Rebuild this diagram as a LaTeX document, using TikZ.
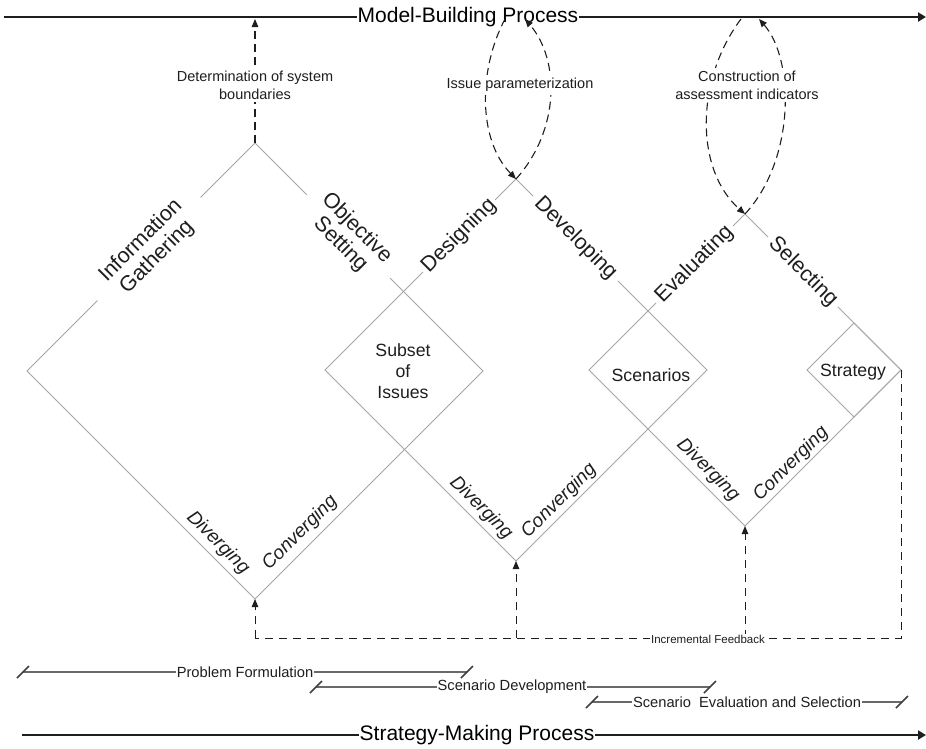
\documentclass[tikz,border=0pt]{standalone}
\usepackage{fontspec}
\setmainfont{Liberation Sans}
\usetikzlibrary{arrows.meta,calc,shapes.geometric}
\definecolor{dgray}{RGB}{165,165,165}
\definecolor{ink}{RGB}{30,30,30}
\definecolor{tlgray}{RGB}{105,105,105}
\begin{document}
\begin{tikzpicture}[x=1pt,y=-1pt,
 edge/.style={draw=dgray,line width=0.9pt},
 phase/.style={fill=white,inner ysep=1pt,font=\fontsize{21.5}{23}\selectfont,align=center,text=ink},
 swing/.style={font=\fontsize{19}{21}\selectfont\itshape,inner sep=0pt,text=ink},
 inside/.style={font=\fontsize{17.7}{21}\selectfont,align=center,inner sep=0pt,text=ink},
 note/.style={fill=white,font=\fontsize{14.5}{18}\selectfont,align=center,inner xsep=1pt,inner ysep=3pt,text=ink},
 mainline/.style={draw=ink,line width=2.2pt,-{Triangle[length=8pt,width=9pt]}},
 headline/.style={fill=white,font=\fontsize{21}{24}\selectfont,inner xsep=1pt,inner ysep=2pt,text=black},
 loopline/.style={draw=ink,dash pattern=on 8pt off 5pt,line width=1.1pt},
 tipped/.style={-{Triangle[length=8pt,width=6.5pt]}},
 fbline/.style={draw=ink,dash pattern=on 8pt off 6pt,line width=1pt},
 span/.style={draw=tlgray,line width=1.6pt},
 tick/.style={draw=ink!85,line width=1.5pt},
 spanlab/.style={fill=white,font=\fontsize{14.7}{17}\selectfont,inner xsep=1pt,inner ysep=1pt,text=ink}
]
\useasboundingbox (0,0) rectangle (926,748);

% ---- corner coordinates of the three big diamonds
\coordinate (T1) at (255,143); \coordinate (L1) at (27,371);
\coordinate (B1) at (255,599); \coordinate (R1) at (483,371);
\coordinate (T2) at (516,179); \coordinate (L2) at (325,370);
\coordinate (B2) at (516,561); \coordinate (R2) at (707,370);
\coordinate (T3) at (745,214); \coordinate (L3) at (589,370);
\coordinate (B3) at (745,526); \coordinate (R3) at (901,370);
\coordinate (S4t) at (854,323); \coordinate (S4l) at (807,370); \coordinate (S4b) at (854,417);

% ---- diamonds
\draw[edge] (T1) -- (R1) -- (B1) -- (L1) -- cycle;
\draw[edge] (T2) -- (R2) -- (B2) -- (L2) -- cycle;
\draw[edge] (T3) -- (R3) -- (B3) -- (L3) -- cycle;
\draw[edge] (S4t) -- (S4l) -- (S4b) -- (R3) -- cycle;

% ---- phase labels on upper edges
\node[phase,rotate=45,inner xsep=19pt] (ig) at (149,249) {Information\\Gathering};
\node[phase,rotate=-45,inner xsep=14pt] (os) at (348.5,236.5) {Objective\\Setting};
\node[phase,rotate=45,inner xsep=3pt] (des) at (459,236) {Designing};
\node[phase,rotate=-45,inner xsep=6pt] (dev) at (575.5,238.5) {Developing};
\node[phase,rotate=45,inner xsep=4pt] (eva) at (694.5,264.5) {Evaluating};
\node[phase,rotate=-45,inner xsep=5pt] (sel) at (803,272) {Selecting};

% ---- inner results
\node[inside] (sub) at (403,371) {Subset\\of\\Issues};
\node[inside] (scn) at (651,375) {Scenarios};
\node[inside] (str) at (853,372) {Strategy};

% ---- diverging / converging
\node[swing,rotate=-45] (dv1) at ($(B1)+(-37,-56)$) {Diverging};
\node[swing,rotate=45]  (cv1) at ($(B1)+(45,-66)$) {Converging};
\node[swing,rotate=-45] (dv2) at ($(B2)+(-35,-53)$) {Diverging};
\node[swing,rotate=45]  (cv2) at ($(B2)+(43,-60)$) {Converging};
\node[swing,rotate=-45] (dv3) at ($(B3)+(-37,-56)$) {Diverging};
\node[swing,rotate=45]  (cv3) at ($(B3)+(46,-62)$) {Converging};

% ---- top process line
\coordinate (mbL) at (4,17); \coordinate (mbR) at (926,17);
\draw[mainline] (mbL) -- (mbR);
\node[headline] (mbp) at (468,17) {Model-Building Process};

% ---- upward dashed links
\coordinate (dsTop) at (255,19);
\draw[loopline,tipped] (T1) -- (dsTop);
\node[note] (dsb) at (255,85) {Determination of system\\boundaries};

\coordinate (ipL) at (505,19); \coordinate (ipR) at (525,19);
\draw[loopline,tipped] (ipL) .. controls (478,70) and (478,140) .. (T2);
\draw[loopline,tipped] (T2) .. controls (560,130) and (560,60) .. (ipR);
\node[note] (ipz) at (520,85) {Issue parameterization};

\coordinate (caL) at (741,19); \coordinate (caR) at (759,19);
\draw[loopline,tipped] (caL) .. controls (695,80) and (695,170) .. (T3);
\draw[loopline,tipped] (T3) .. controls (795,160) and (795,60) .. (caR);
\node[note] (cai) at (747,85) {Construction of\\assessment indicators};

% ---- incremental feedback
\coordinate (fb1) at (255,638); \coordinate (fb2) at (516,638);
\coordinate (fb3) at (745,638); \coordinate (fb4) at (901,638);
\draw[fbline] (R3) -- (fb4) -- (fb1);
\draw[fbline,tipped] (fb1) -- (B1);
\draw[fbline,tipped] (fb2) -- (B2);
\draw[fbline,tipped] (fb3) -- (B3);
\node[fill=white,font=\fontsize{11.5}{13}\selectfont,inner sep=1pt,text=ink] (ifb) at (708,639) {Incremental Feedback};

% ---- stage spans
\coordinate (pfA) at (23,672); \coordinate (pfB) at (467,672);
\draw[span] (pfA) -- (pfB);
\draw[tick] ($(pfA)+(-6,6)$) -- ($(pfA)+(6,-6)$);
\draw[tick] ($(pfB)+(-6,6)$) -- ($(pfB)+(6,-6)$);
\node[spanlab] (pf) at (245,672) {Problem Formulation};

\coordinate (sdA) at (316,687); \coordinate (sdB) at (710,687);
\draw[span] (sdA) -- (sdB);
\draw[tick] ($(sdA)+(-6,6)$) -- ($(sdA)+(6,-6)$);
\draw[tick] ($(sdB)+(-6,6)$) -- ($(sdB)+(6,-6)$);
\node[spanlab] (sd) at (512,687) {Scenario Development};

\coordinate (seA) at (592,702); \coordinate (seB) at (902,702);
\draw[span] (seA) -- (seB);
\draw[tick] ($(seA)+(-6,6)$) -- ($(seA)+(6,-6)$);
\draw[tick] ($(seB)+(-6,6)$) -- ($(seB)+(6,-6)$);
\node[spanlab] (se) at (747,702) {Scenario\ \ Evaluation and Selection};

% ---- bottom process line
\coordinate (smL) at (22,735); \coordinate (smR) at (926,735);
\draw[mainline] (smL) -- (smR);
\node[headline] (smp) at (477,735) {Strategy-Making Process};
\end{tikzpicture}
\end{document}
